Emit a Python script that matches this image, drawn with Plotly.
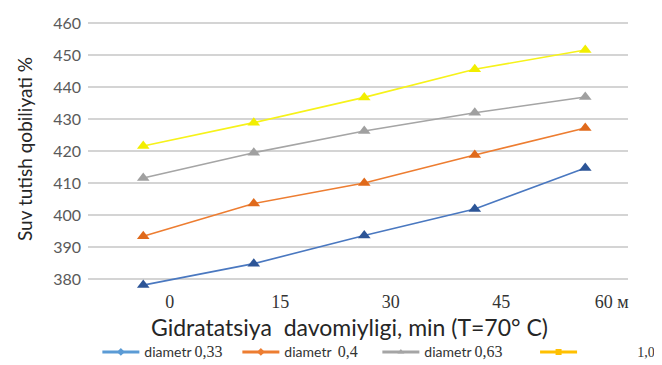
import plotly.graph_objects as go

minutes = [0, 15, 30, 45, 60]
tick_labels = ["0", "15", "30", "45", "60 м"]
d033 = [378.1, 384.8, 393.6, 401.9, 414.7]
d04 = [393.4, 403.6, 410.0, 418.8, 427.2]
d063 = [411.6, 419.5, 426.3, 432.0, 436.9]
d10 = [421.6, 428.9, 436.8, 445.6, 451.6]

series = [
    ("0,33", d033, "#4a78c0", "#2c5597", "#5b9bd5", "diamond"),
    ("0,4", d04, "#ed7d31", "#e06a1b", "#ed7d31", "diamond"),
    ("0,63", d063, "#a5a5a5", "#a0a0a0", "#a5a5a5", "triangle-up"),
    ("1,0", d10, "#f6f21a", "#f2ee00", "#ffc000", "square"),
]

fig = go.Figure()
for name, vals, lc, mc, legc, lsym in series:
    fig.add_trace(go.Scatter(
        x=minutes, y=vals, mode="lines+markers", showlegend=False,
        line=dict(color=lc, width=1.6),
        marker=dict(symbol="triangle-up", size=11, color=mc),
    ))

small = '<span style="font-family:Lato;font-size:14px">diametr</span>'
def big(t, size=16):
    return ('<span style="font-family:Liberation Serif;font-size:%dpx">' % size) + t + '</span>'

legend_names = [
    small + " " + big("0,33"),
    small + "  " + big("0,4"),
    small + " " + big("0,63"),
    "\u00a0" * 18 + big("1,0", 14),
]
legend_ids = ["legend", "legend", "legend", "legend2"]
for (name, vals, lc, mc, legc, lsym), lname, lid in zip(series, legend_names, legend_ids):
    fig.add_trace(go.Scatter(
        x=[None], y=[None], mode="lines+markers", name=lname, legend=lid,
        line=dict(color=legc, width=3),
        marker=dict(symbol=lsym, size=6, color=legc),
    ))

shift = 3.6
fig.update_layout(
    width=662, height=365,
    margin=dict(l=80, r=42, t=12, b=78, autoexpand=False),
    paper_bgcolor="white", plot_bgcolor="white",
    xaxis=dict(
        range=[-7.5, 65.8], showgrid=False, zeroline=False, showline=False,
        tickmode="array", tickvals=[m + shift for m in minutes], ticktext=tick_labels,
        tickfont=dict(family="Liberation Serif", size=18, color="#333333"),
        ticks="", ticklabelstandoff=-6,
    ),
    yaxis=dict(
        range=[375, 461], tickvals=[380, 390, 400, 410, 420, 430, 440, 450, 460],
        showgrid=True, gridcolor="#d4d4d4", gridwidth=1.5, zeroline=False, showline=False,
        tickfont=dict(family="Liberation Sans Narrow, Lato", size=16, color="#5a5a5a"),
        ticks="", ticklabelstandoff=6,
    ),
    annotations=[
        dict(text="Gidratatsiya  davomiyligi, min (T=70° C)", xref="paper", yref="paper",
             x=(341 - 80) / 540, y=-(319 - 287) / 275, xanchor="center", yanchor="middle",
             showarrow=False, font=dict(family="Lato", size=23, color="#262626")),
        dict(text="Suv tutish qobiliyati %", xref="paper", yref="paper",
             x=-(80 - 16) / 540, y=(287 - 141) / 275, xanchor="center", yanchor="middle",
             textangle=-90, showarrow=False,
             font=dict(family="Lato", size=19, color="#262626")),
    ],
    legend=dict(orientation="h", xref="container", x=0.135, xanchor="left",
                y=-0.207, yanchor="middle",
                font=dict(family="Lato", size=12, color="#333333"),
                entrywidth=88, itemwidth=37, bgcolor="rgba(0,0,0,0)"),
    legend2=dict(orientation="h", xref="container", x=0.985, xanchor="right",
                 y=-0.207, yanchor="middle",
                 font=dict(family="Lato", size=12, color="#333333"),
                 itemwidth=37, bgcolor="rgba(0,0,0,0)"),
)

fig.write_html("out.html")
